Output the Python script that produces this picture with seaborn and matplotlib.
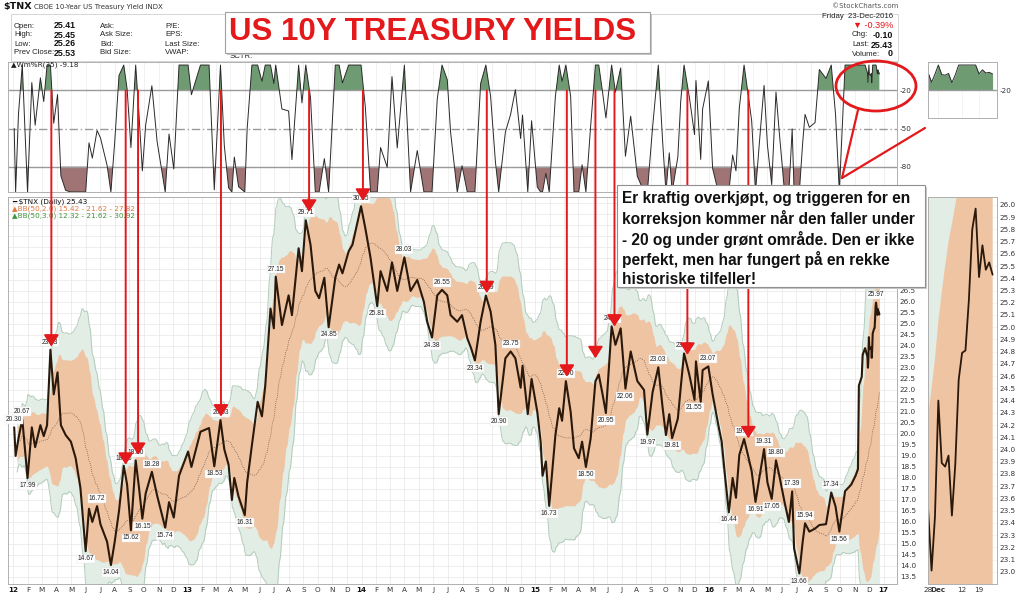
import numpy as np
import pandas as pd
import matplotlib
matplotlib.use("Agg")
import matplotlib.pyplot as plt
import matplotlib.dates as mdates
from matplotlib.patches import Ellipse, Rectangle, ConnectionPatch
from matplotlib.lines import Line2D
import seaborn as sns

sns.set_theme(style="white")
plt.rcParams["font.family"] = ["DejaVu Sans"]

# ---------------- data ----------------
DATES = [
    "2012-01-03", "2012-01-06", "2012-01-12", "2012-01-20", "2012-01-31", "2012-02-09", "2012-02-16",
    "2012-02-27", "2012-03-05", "2012-03-12", "2012-03-19", "2012-03-26", "2012-04-03", "2012-04-10",
    "2012-04-20", "2012-05-01", "2012-05-11", "2012-05-21", "2012-06-01", "2012-06-08", "2012-06-15",
    "2012-06-25", "2012-07-02", "2012-07-16", "2012-07-24", "2012-08-01", "2012-08-10", "2012-08-20",
    "2012-08-27", "2012-09-04", "2012-09-14", "2012-09-21", "2012-09-28", "2012-10-05", "2012-10-18",
    "2012-10-29", "2012-11-15", "2012-11-23", "2012-12-03", "2012-12-14",
    "2013-01-02", "2013-01-09", "2013-01-28", "2013-02-15", "2013-02-26", "2013-03-11", "2013-03-19",
    "2013-03-28", "2013-04-04", "2013-04-09", "2013-04-18", "2013-05-01", "2013-05-06", "2013-05-16",
    "2013-05-28", "2013-06-06", "2013-06-13", "2013-06-24", "2013-07-01", "2013-07-05", "2013-07-18",
    "2013-08-01", "2013-08-08", "2013-08-22", "2013-08-29", "2013-09-06", "2013-09-16", "2013-09-26",
    "2013-10-04", "2013-10-15", "2013-10-24", "2013-11-07", "2013-11-15", "2013-11-22", "2013-12-05",
    "2013-12-13", "2013-12-31",
    "2014-01-09", "2014-01-20", "2014-02-03", "2014-02-10", "2014-02-24", "2014-03-06", "2014-03-17",
    "2014-04-01", "2014-04-14", "2014-04-28", "2014-05-12", "2014-05-19", "2014-05-29", "2014-06-09",
    "2014-06-19", "2014-06-30", "2014-07-07", "2014-07-21", "2014-07-31", "2014-08-11", "2014-08-19",
    "2014-08-27", "2014-09-08", "2014-09-19", "2014-09-29", "2014-10-09", "2014-10-16", "2014-10-30",
    "2014-11-10", "2014-11-20", "2014-12-01", "2014-12-05", "2014-12-16", "2014-12-24",
    "2015-01-05", "2015-01-12", "2015-01-16", "2015-01-23", "2015-01-30", "2015-02-12", "2015-02-20",
    "2015-02-26", "2015-03-06", "2015-03-16", "2015-03-23", "2015-04-02", "2015-04-09", "2015-04-17",
    "2015-04-27", "2015-05-07", "2015-05-14", "2015-05-22", "2015-05-29", "2015-06-10", "2015-06-18",
    "2015-06-29", "2015-07-09", "2015-07-20", "2015-08-03", "2015-08-17", "2015-08-24", "2015-09-04",
    "2015-09-16", "2015-09-25", "2015-10-02", "2015-10-09", "2015-10-15", "2015-10-27", "2015-11-02",
    "2015-11-09", "2015-11-20", "2015-12-01", "2015-12-04", "2015-12-14", "2015-12-18", "2015-12-30",
    "2016-01-08", "2016-01-20", "2016-01-27", "2016-02-03", "2016-02-11", "2016-02-19", "2016-02-26",
    "2016-03-04", "2016-03-14", "2016-03-22", "2016-03-30", "2016-04-07", "2016-04-15", "2016-04-25",
    "2016-05-02", "2016-05-11", "2016-05-20", "2016-05-27", "2016-06-07", "2016-06-16", "2016-06-23",
    "2016-06-27", "2016-07-08", "2016-07-15", "2016-07-20", "2016-07-29", "2016-08-10", "2016-08-19",
    "2016-09-02", "2016-09-13", "2016-09-22", "2016-09-30", "2016-10-12", "2016-10-25", "2016-11-03",
    "2016-11-08", "2016-11-10", "2016-11-16", "2016-11-18", "2016-11-23", "2016-11-28", "2016-11-29",
    "2016-11-30", "2016-12-01", "2016-12-02", "2016-12-05", "2016-12-06", "2016-12-07", "2016-12-08",
    "2016-12-09", "2016-12-12", "2016-12-13", "2016-12-14", "2016-12-15", "2016-12-16", "2016-12-19",
    "2016-12-20", "2016-12-21", "2016-12-22", "2016-12-23",
]
TNX = [
    20.30, 19.00, 19.80, 20.67, 17.99, 20.30, 19.40,
    20.40, 19.90, 20.40, 23.83, 21.80, 22.80, 20.40,
    19.95, 19.65, 18.90, 17.55, 14.67, 16.60, 16.00,
    16.72, 15.90, 15.10, 14.04, 15.10, 16.50, 18.55,
    17.70, 15.62, 18.80, 17.55, 16.15, 17.30, 18.28,
    17.20, 15.74, 16.90, 16.20, 18.10,
    19.20, 18.50, 20.10, 20.27, 18.53, 20.63, 19.30,
    18.60, 17.00, 18.00, 17.15, 16.31, 17.80, 19.50,
    21.46, 20.80, 22.20, 25.70, 24.80, 27.15, 24.95,
    26.30, 25.40, 28.44, 27.40, 29.71, 28.60, 26.50,
    26.17, 27.10, 24.85, 27.10, 27.70, 27.30, 28.30,
    28.60, 30.35,
    29.35, 28.00, 25.81, 27.40, 26.50, 27.80, 26.50,
    28.03, 26.50, 27.00, 26.00, 25.10, 24.38, 26.30,
    26.55, 26.30, 25.40, 25.10, 25.40, 24.35, 23.90,
    23.34, 25.10, 26.29, 25.56, 24.05, 20.90, 23.44,
    23.75, 23.44, 22.10, 23.10, 20.90, 22.50,
    21.00, 19.65, 18.10, 18.75, 16.73, 19.95, 21.17,
    20.60, 22.40, 21.00, 19.35, 18.90, 19.65, 18.50,
    19.80, 22.40, 22.70, 21.80, 20.95, 24.89, 24.05,
    24.80, 22.06, 23.75, 22.40, 22.00, 19.97, 21.90,
    23.03, 21.20, 19.95, 20.90, 19.81, 20.70, 22.10,
    23.66, 22.70, 21.55, 23.30, 21.46, 22.90, 23.07,
    21.80, 20.40, 19.65, 18.10, 16.44, 18.00, 17.10,
    19.05, 19.77, 19.05, 18.30, 16.91, 18.00, 19.31,
    17.80, 17.05, 18.80, 18.10, 16.90, 16.00, 17.39,
    14.80, 13.66, 15.10, 15.94, 15.56, 15.70, 15.86,
    15.90, 17.34, 16.70, 15.56, 17.40, 17.70, 18.10,
    18.40, 22.20, 22.60, 23.60, 23.90, 23.50, 23.01,
    23.45, 24.40, 23.89, 23.86, 23.95, 23.46, 23.88,
    24.57, 24.79, 24.81, 25.22, 25.80, 25.97, 25.41,
    25.67, 25.47, 25.53, 25.43,
]

LABEL_DATES = [
    "2012-01-03", "2012-01-20", "2012-01-31", "2012-03-19", "2012-06-01", "2012-06-25", "2012-07-24",
    "2012-08-20", "2012-09-04", "2012-09-14", "2012-09-28", "2012-10-18", "2012-11-15", "2013-02-26",
    "2013-03-11", "2013-05-01", "2013-07-05", "2013-09-06", "2013-10-24", "2013-12-31", "2014-02-03",
    "2014-04-01", "2014-05-29", "2014-06-19", "2014-08-27", "2014-09-19", "2014-10-16", "2014-11-10",
    "2015-01-30", "2015-03-06", "2015-04-17", "2015-05-29", "2015-06-10", "2015-07-09", "2015-08-24",
    "2015-09-16", "2015-10-15", "2015-11-09", "2015-12-01", "2015-12-30", "2016-02-11", "2016-03-14",
    "2016-04-07", "2016-04-25", "2016-05-11", "2016-05-20", "2016-06-23", "2016-07-08", "2016-07-20",
    "2016-09-13", "2016-09-30", "2016-12-16",
]
LABEL_SIDE = [
    "hi", "hi", "lo", "hi", "lo", "hi", "lo",
    "hi", "lo", "hi", "lo", "hi", "lo", "lo",
    "hi", "lo", "hi", "hi", "lo", "hi", "lo",
    "hi", "lo", "hi", "lo", "hi", "lo", "hi",
    "lo", "hi", "lo", "lo", "hi", "lo", "lo",
    "hi", "lo", "hi", "lo", "hi", "lo", "hi",
    "lo", "hi", "lo", "hi", "hi", "lo", "hi",
    "hi", "lo", "hi",
]

ARROW_DATES = ["2012-03-21", "2012-08-24", "2012-09-19", "2013-03-12", "2013-09-13", "2014-01-04",
               "2014-09-21", "2015-03-08", "2015-05-07", "2015-06-16", "2015-11-16", "2016-03-23"]
ARROW_TIPS = [23.97, 18.60, 19.05, 20.79, 30.10, 30.60, 26.40, 22.60, 23.44, 24.88, 23.60, 19.80]

MONTH_INITIALS = ["J", "F", "M", "A", "M", "J", "J", "A", "S", "O", "N", "D"]
ZOOM_TICKS = ["28", "Dec", "12", "19"]

RED = "#e3191c"
ORANGE = "#efc4a3"
MINT = "#e1ede5"
MINT_EDGE = "#b3cbbb"
PRICE = "#2a190b"

# ---------------- indicators ----------------
df = pd.DataFrame({"date": pd.to_datetime(DATES), "tnx": TNX})
s = df.set_index("date")["tnx"]
# Bollinger bands (50 trading days) on a business-day calendar
grid = pd.bdate_range(s.index[0], s.index[-1])
daily = s.reindex(s.index.union(grid)).interpolate(method="time")
sma = daily.rolling(50, min_periods=5).mean()
sd = daily.rolling(50, min_periods=5).std(ddof=0)
ind = pd.DataFrame({"date": daily.index, "sma": sma.values, "sd": sd.values})
# Williams %R (35 trading days ~ 49 calendar days) on the read points
hh = s.rolling("49D").max()
ll = s.rolling("49D").min()
wr = ((hh - s) / (hh - ll) * -100).fillna(-50)
df["wr"] = wr.values

# ---------------- figure ----------------
W, H = 1024, 595
fig = plt.figure(figsize=(W / 100, H / 100), dpi=100)
fig.patch.set_facecolor("white")


def rect(x0, y0, x1, y1):
    return [x0 / W, 1 - y1 / H, (x1 - x0) / W, (y1 - y0) / H]


def ftext(x, y, s, **kw):
    return fig.text(x / W, 1 - y / H, s, **kw)


ax_r = fig.add_axes(rect(8, 62, 897, 192))
ax_p = fig.add_axes(rect(8, 197, 897, 584))
ax_r2 = fig.add_axes(rect(928, 62, 997, 118))
ax_p2 = fig.add_axes(rect(928, 197, 997, 584))

xmin, xmax = pd.Timestamp("2011-12-21"), pd.Timestamp("2017-01-29")
months = pd.date_range("2012-01-01", "2017-01-01", freq="MS")
mlabels = [f"{m.year % 100:02d}" if m.month == 1 else MONTH_INITIALS[m.month - 1] for m in months]

for ax in (ax_r, ax_p, ax_r2, ax_p2):
    ax.set_facecolor("white")
    for sp in ax.spines.values():
        sp.set_color("#b0b0b0")
        sp.set_linewidth(0.7)
    ax.tick_params(length=0, labelsize=5.2, colors="#333333", pad=2)
    ax.set_axisbelow(True)

# ---- main price panel ----
ax_p.fill_between(ind["date"], ind["sma"] - 3 * ind["sd"], ind["sma"] + 3 * ind["sd"], color=MINT, lw=0)
ax_p.plot(ind["date"], ind["sma"] - 3 * ind["sd"], color=MINT_EDGE, lw=0.7)
ax_p.plot(ind["date"], ind["sma"] + 3 * ind["sd"], color=MINT_EDGE, lw=0.7)
ax_p.fill_between(ind["date"], ind["sma"] - 2 * ind["sd"], ind["sma"] + 2 * ind["sd"], color=ORANGE, lw=0)
sns.lineplot(data=ind, x="date", y="sma", ax=ax_p, color="#7d5f4c", lw=0.6, linestyle=(0, (1, 1.5)))
sns.lineplot(data=df, x="date", y="tnx", ax=ax_p, color=PRICE, lw=1.5, estimator=None, sort=False)

ax_p.set_xlim(xmin, xmax)
ax_p.set_ylim(13.18, 30.77)
ax_p.yaxis.tick_right()
yt = np.arange(13.5, 30.6, 0.5)
ax_p.set_yticks(yt)
ax_p.set_yticklabels([f"{v:.1f}" if v <= 26.5 else "" for v in yt])
ax_p.set_xticks(months)
ax_p.set_xticklabels(mlabels)
for t, m in zip(ax_p.get_xticklabels(), months):
    if m.month == 1:
        t.set_fontweight("bold")
        t.set_color("#111111")
ax_p.grid(True, color="#e8e8e8", lw=0.5)
ax_p.set_xlabel("")
ax_p.set_ylabel("")

# value labels
lab = df.set_index("date")["tnx"]
for d, side in zip(LABEL_DATES, LABEL_SIDE):
    dt = pd.Timestamp(d)
    v = lab.loc[dt]
    off = 5.5 if side == "hi" else -5.5
    ax_p.annotate(f"{v:.2f}", (dt, v), xytext=(0, off), textcoords="offset points",
                  ha="center", va="center", fontsize=4.8, color="#222222", family="Liberation Sans",
                  bbox=dict(boxstyle="square,pad=0.12", fc="white", ec="#e4e4e4", lw=0.3), zorder=5)

# legend text
ftext(12, 202, "━ $TNX (Daily) 25.43", fontsize=5.2, color="#111111", va="center")
ftext(12, 209, "▲BB(50,2.0) 15.42 - 21.62 - 27.82", fontsize=5.2, color="#e0783a", va="center")
ftext(12, 216, "▲BB(50,3.0) 12.32 - 21.62 - 30.92", fontsize=5.2, color="#3f9440", va="center")

# ---- Williams %R panel ----
ax_r.fill_between(df["date"], df["wr"], -20, where=df["wr"] > -20, interpolate=True, color="#6f9b72", lw=0)
ax_r.fill_between(df["date"], df["wr"], -80, where=df["wr"] < -80, interpolate=True, color="#a07474", lw=0)
sns.lineplot(data=df, x="date", y="wr", ax=ax_r, color="#2a2a2a", lw=0.7, estimator=None, sort=False)
for lvl, ls in ((-20, "-"), (-50, (0, (6, 2, 1, 2))), (-80, "-")):
    ax_r.axhline(lvl, color="#9a9a9a", lw=1.0, ls=ls, zorder=1)
ax_r.set_xlim(xmin, xmax)
ax_r.set_ylim(-100, 2.4)
ax_r.set_xticks(months)
ax_r.set_xticklabels([])
ax_r.yaxis.tick_right()
ax_r.set_yticks([-20, -50, -80])
ax_r.set_yticklabels(["-20", "-50", "-80"])
ax_r.grid(True, axis="x", color="#ececec", lw=0.5)
ax_r.set_xlabel("")
ax_r.set_ylabel("")
ftext(11, 65, "▲Wm%R(35) -9.18", fontsize=5.2, color="#222222", va="center")

# ---- zoomed last-month panels ----
last = df.tail(20).reset_index(drop=True)
last["i"] = np.arange(len(last))
zi = ind.set_index("date").loc[last["date"]].reset_index()
zi["i"] = np.arange(len(zi))
ax_p2.fill_between(zi["i"], zi["sma"] - 3 * zi["sd"], zi["sma"] + 3 * zi["sd"], color=MINT, lw=0)
ax_p2.fill_between(zi["i"], zi["sma"] - 2 * zi["sd"], zi["sma"] + 2 * zi["sd"], color=ORANGE, lw=0)
sns.lineplot(data=last, x="i", y="tnx", ax=ax_p2, color=PRICE, lw=1.3)
ax_p2.set_xlim(-0.05, 20.3)
ax_p2.set_ylim(22.9, 26.065)
ax_p2.yaxis.tick_right()
zt = np.round(np.arange(23.0, 26.01, 0.1), 1)
ax_p2.set_yticks(zt)
ax_p2.set_yticklabels([f"{v:.1f}" for v in zt])
ax_p2.set_xticks([0, 3, 10, 15])
ax_p2.set_xticklabels(ZOOM_TICKS)
ax_p2.get_xticklabels()[1].set_fontweight("bold")
ax_p2.grid(True, color="#ececec", lw=0.4)
ax_p2.set_xlabel("")
ax_p2.set_ylabel("")

ax_r2.fill_between(last["i"], last["wr"], -20, where=last["wr"] > -20, interpolate=True, color="#6f9b72", lw=0)
sns.lineplot(data=last, x="i", y="wr", ax=ax_r2, color="#2a2a2a", lw=0.7)
ax_r2.axhline(-20, color="#9a9a9a", lw=1.0)
ax_r2.set_xlim(-0.05, 20.3)
ax_r2.set_ylim(-42.1, 2.4)
ax_r2.yaxis.tick_right()
ax_r2.set_yticks([-20])
ax_r2.set_yticklabels(["-20"])
ax_r2.set_xticks([0, 3, 10, 15])
ax_r2.set_xticklabels([])
ax_r2.grid(True, axis="x", color="#ececec", lw=0.4)
ax_r2.set_xlabel("")
ax_r2.set_ylabel("")

# ---- red arrows from %R -20 line down to the price ----
for d, tip in zip(ARROW_DATES, ARROW_TIPS):
    xn = mdates.date2num(pd.Timestamp(d))
    cp = ConnectionPatch(xyA=(xn, -20), coordsA=ax_r.transData, xyB=(xn, tip), coordsB=ax_p.transData,
                         arrowstyle="-|>,head_length=0.7,head_width=0.45", mutation_scale=10,
                         color=RED, lw=1.4, zorder=6)
    fig.add_artist(cp)

# ---- header ----
fig.add_artist(Rectangle((11 / W, 1 - 61 / H), (898 - 11) / W, (61 - 14) / H, transform=fig.transFigure,
                         fill=False, ec="#d0d0d0", lw=0.6))
ftext(3, 7, "$TNX", fontsize=6.8, weight="bold", color="#111111", va="center")
ftext(34, 7, "CBOE 10-Year US Treasury Yield INDX", fontsize=5.0, color="#333333", va="center")
hdr_y = [26, 35, 44, 53]
for y, lbl, val in zip(hdr_y, ["Open:", "High:", "Low:", "Prev Close:"], ["25.41", "25.45", "25.26", "25.53"]):
    ftext(14, y, lbl, fontsize=5.6, color="#222222", va="center", family="Liberation Sans")
    ftext(54, y, val, fontsize=6.4, weight="bold", color="#111111", va="center", family="Liberation Sans")
for y, lbl in zip(hdr_y, ["Ask:", "Ask Size:", "Bid:", "Bid Size:"]):
    ftext(100, y, lbl, fontsize=5.6, color="#222222", va="center", family="Liberation Sans")
for y, lbl in zip(hdr_y, ["P/E:", "EPS:", "Last Size:", "VWAP:"]):
    ftext(165, y, lbl, fontsize=5.6, color="#222222", va="center", family="Liberation Sans")
ftext(230, 56, "SCTR:", fontsize=5.6, color="#222222", va="center", family="Liberation Sans")

ftext(898, 6, "©StockCharts.com", fontsize=5.0, color="#555555", va="center", ha="right")
ftext(893, 16, "Friday  23-Dec-2016", fontsize=5.6, color="#222222", va="center", ha="right", family="Liberation Sans")
ftext(893, 25, "▼ -0.39%", fontsize=6.6, color=RED, va="center", ha="right", family=["Liberation Sans", "DejaVu Sans"])
for y, lbl, val in zip([35, 45, 54], ["Chg:", "Last:", "Volume:"], ["-0.10", "25.43", "0"]):
    ftext(852, y, lbl, fontsize=5.6, color="#222222", va="center", family="Liberation Sans")
    ftext(893, y, val, fontsize=6.4, weight="bold", color="#111111", va="center", ha="right", family="Liberation Sans")

# title box
fig.add_artist(Rectangle((227 / W, 1 - 55 / H), (652 - 227) / W, (55 - 14) / H, transform=fig.transFigure,
                         fc="#c8c8c8", ec="none", zorder=8))
fig.add_artist(Rectangle((225 / W, 1 - 53 / H), (650 - 225) / W, (53 - 12) / H, transform=fig.transFigure,
                         fc="white", ec="#a0a0a0", lw=0.8, zorder=9))
ftext(229, 32, "US 10Y TREASURY YIELDS", fontsize=22.5, weight="bold", color=RED, va="center",
      family="Liberation Sans", zorder=10)

# comment box
fig.add_artist(Rectangle((619 / W, 1 - 289 / H), (927 - 619) / W, (289 - 187) / H, transform=fig.transFigure,
                         fc="#c8c8c8", ec="none", zorder=8))
fig.add_artist(Rectangle((617 / W, 1 - 287 / H), (925 - 617) / W, (287 - 185) / H, transform=fig.transFigure,
                         fc="white", ec="#909090", lw=0.8, zorder=9))
ftext(622, 191, "Er kraftig overkjøpt, og triggeren for en\nkorreksjon kommer når den faller under\n"
      "- 20 og under grønt område. Den er ikke\nperfekt, men har fungert på en rekke\nhistoriske tilfeller!",
      fontsize=11.2, weight="bold", color="#111111", va="top", ha="left", family="Liberation Sans",
      linespacing=1.27, zorder=10)

# ellipse + pointer lines
fig.add_artist(Ellipse((876 / W, 1 - 86 / H), 80 / W, 50 / H, transform=fig.transFigure,
                       fill=False, ec=RED, lw=2.0, zorder=7))
fig.add_artist(Line2D([858 / W, 842 / W], [1 - 110 / H, 1 - 178 / H], transform=fig.transFigure,
                      color=RED, lw=1.6, zorder=7))
fig.add_artist(Line2D([842 / W, 925 / W], [1 - 178 / H, 1 - 128 / H], transform=fig.transFigure,
                      color=RED, lw=1.6, zorder=7))

fig.savefig("out.png", dpi=100, facecolor="white")
